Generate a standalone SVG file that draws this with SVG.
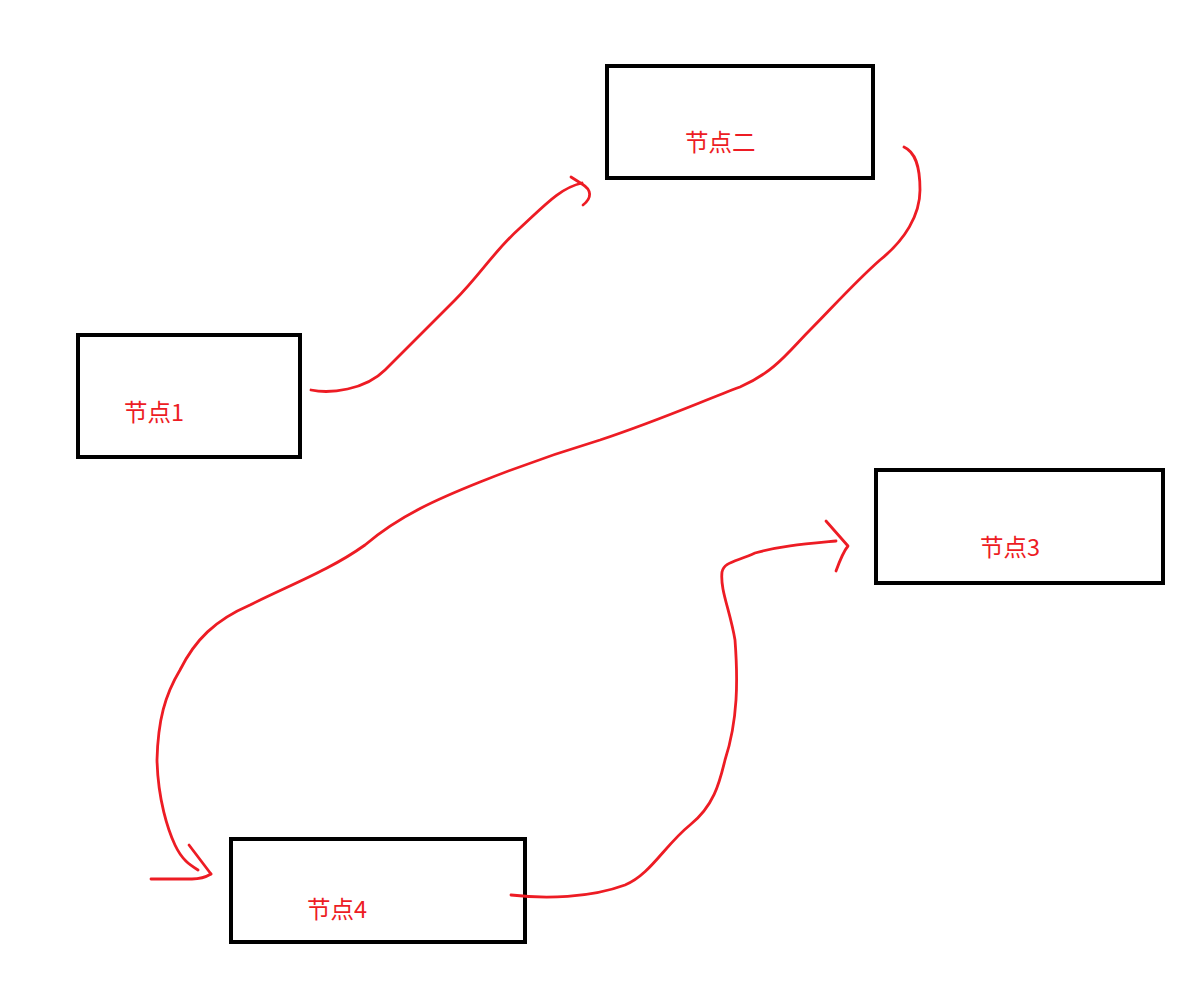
<svg xmlns="http://www.w3.org/2000/svg" width="1201" height="991" viewBox="0 0 1201 991">
<style>
.box{fill:none;stroke:#000;stroke-width:4}
.lbl{font-family:"Microsoft YaHei","Noto Sans CJK SC",sans-serif;font-size:23.5px;fill:#ed1c24}
.wire{fill:none;stroke:#ed1c24;stroke-width:2.8;stroke-linecap:round;stroke-linejoin:round}
</style>
<rect width="1201" height="991" fill="#fff"/>
<g id="node1"><rect class="box" x="78" y="335" width="222" height="122"/><text class="lbl" x="124" y="421">节点1</text></g>
<g id="node2"><rect class="box" x="607" y="66" width="266" height="112"/><text class="lbl" x="685" y="151">节点二</text></g>
<g id="node3"><rect class="box" x="876" y="470" width="287" height="113"/><text class="lbl" x="980" y="556">节点3</text></g>
<g id="node4"><rect class="box" x="231" y="839" width="294" height="103"/><text class="lbl" x="307" y="918">节点4</text></g>
<g id="connectors">
<path class="wire" d="M311,390 C330,394 365,390 385,370 C410,345 430,325 455,300 C480,275 495,250 520,228 C545,205 560,188 582,183"/>
<path class="wire" d="M571,177 L582,184 C592,190 592,198 583,205"/>
<path class="wire" d="M904,147 C915,152 920,165 920,190 C920,215 905,240 880,260 C855,282 830,310 810,330 C790,350 775,372 740,387 C700,402 660,420 600,440 C560,452 520,466 480,482 C440,498 400,515 365,545 C330,570 290,585 250,605 C215,620 195,640 180,670 C165,695 158,720 157,760 C158,800 168,830 175,845 C182,860 190,865 198,870"/>
<path class="wire" d="M189,845 L211,874"/>
<path class="wire" d="M151,879 L192,879 C200,879 206,877 211,874"/>
<path class="wire" d="M511,895 C545,899 590,898 625,885 C650,875 665,845 690,825 C715,805 720,780 725,760 C738,720 738,680 735,640 C730,610 720,590 722,572 C724,562 735,562 755,553 C780,546 805,544 836,541"/>
<path class="wire" d="M826,521 L848,546 C843,552 840,560 836,571"/>
</g>
</svg>
